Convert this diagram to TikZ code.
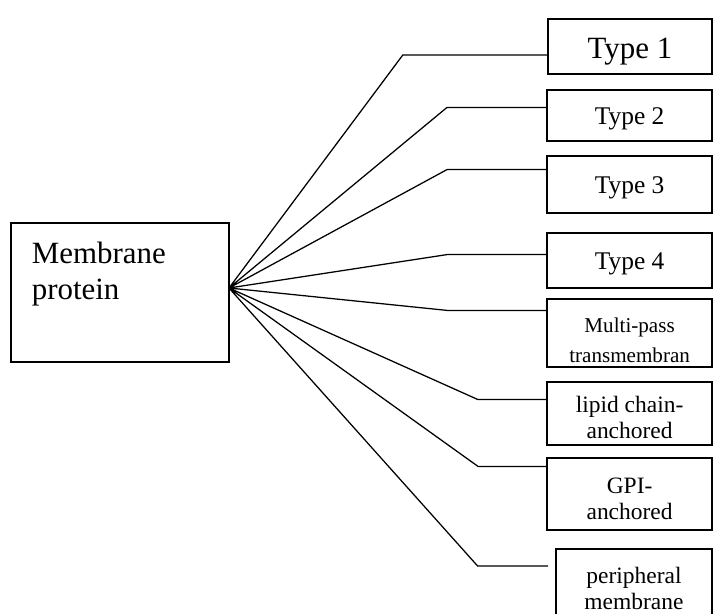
\documentclass[tikz,border=0pt]{standalone}
\usepackage{fontspec}
\setmainfont{Liberation Serif}

\begin{document}
\begin{tikzpicture}[
    box/.style={draw,rectangle,line width=0.95pt,inner sep=0pt,
                minimum width=4.125cm,text width=4.125cm,align=flush center},
    single/.style={box,font=\fontsize{18.1}{21}\selectfont,
                text height=13.5pt,text depth=0.5pt},
    double/.style={box,text height=9.5pt,text depth=10.5pt},
    small/.style={font=\fontsize{16.7}{18.3}\selectfont},
    tiny/.style={font=\fontsize{15}{21.3}\selectfont},
    link/.style={line width=0.9pt}]
            \useasboundingbox (0,0) rectangle (17.825,15.35);
            \clip (0,0) rectangle (17.825,15.35);
            \node[draw,line width=1pt,inner xsep=0.52cm,inner ysep=0pt,
                  minimum width=5.45cm,minimum height=3.475cm,text width=4.41cm,
                  align=flush left,font=\fontsize{22}{26}\selectfont,
                  text height=16pt,text depth=57.5pt] (membrane) at (3.0,8.04) {Membrane\\protein};
            \node[single,line width=1.6pt,font=\fontsize{22}{26}\selectfont,
                  text height=17.5pt,text depth=0.7pt,minimum width=4.1cm,
                  text width=4.1cm,minimum height=1.375cm] (type1) at (15.75,14.19) {Type 1};
            \node[single,minimum height=1.275cm] (type2) at (15.74,12.46) {Type 2};
            \node[single,minimum height=1.425cm] (type3) at (15.74,10.74) {Type 3};
            \node[single,minimum height=1.375cm] (type4) at (15.74,8.84) {Type 4};
            \node[double,tiny,minimum height=1.7cm] (multi) at (15.74,7.025) {Multi-pass\\transmembran};
            \node[double,small,minimum height=1.575cm] (lipid) at (15.74,5.01) {lipid chain-\\anchored};
            \node[double,small,minimum height=1.8cm] (gpi) at (15.74,3.0) {GPI-\\anchored};
            \node[double,small,minimum width=3.9cm,text width=3.9cm,
                  minimum height=1.765cm] (periph) at (15.85,0.7425) {peripheral\\membrane};
            \coordinate (fan) at (5.725,8.15);
            \coordinate (b1) at (10.07,13.975);
            \coordinate (b2) at (11.17,12.66);
            \coordinate (b3) at (11.175,11.11);
            \coordinate (b4) at (11.175,8.985);
            \coordinate (b5) at (11.175,7.59);
            \coordinate (b6) at (11.95,5.36);
            \coordinate (b7) at (11.95,3.69);
            \coordinate (b8) at (11.94,1.2);
            \coordinate (e8) at (13.7,1.2);
            \draw[link] (fan) -- (b1) -- (b1 -| type1.west)
                        (fan) -- (b2) -- (b2 -| type2.west)
                        (fan) -- (b3) -- (b3 -| type3.west)
                        (fan) -- (b4) -- (b4 -| type4.west)
                        (fan) -- (b5) -- (b5 -| multi.west)
                        (fan) -- (b6) -- (b6 -| lipid.west)
                        (fan) -- (b7) -- (b7 -| gpi.west)
                        (fan) -- (b8) -- (e8);
          \end{tikzpicture}
\end{document}
